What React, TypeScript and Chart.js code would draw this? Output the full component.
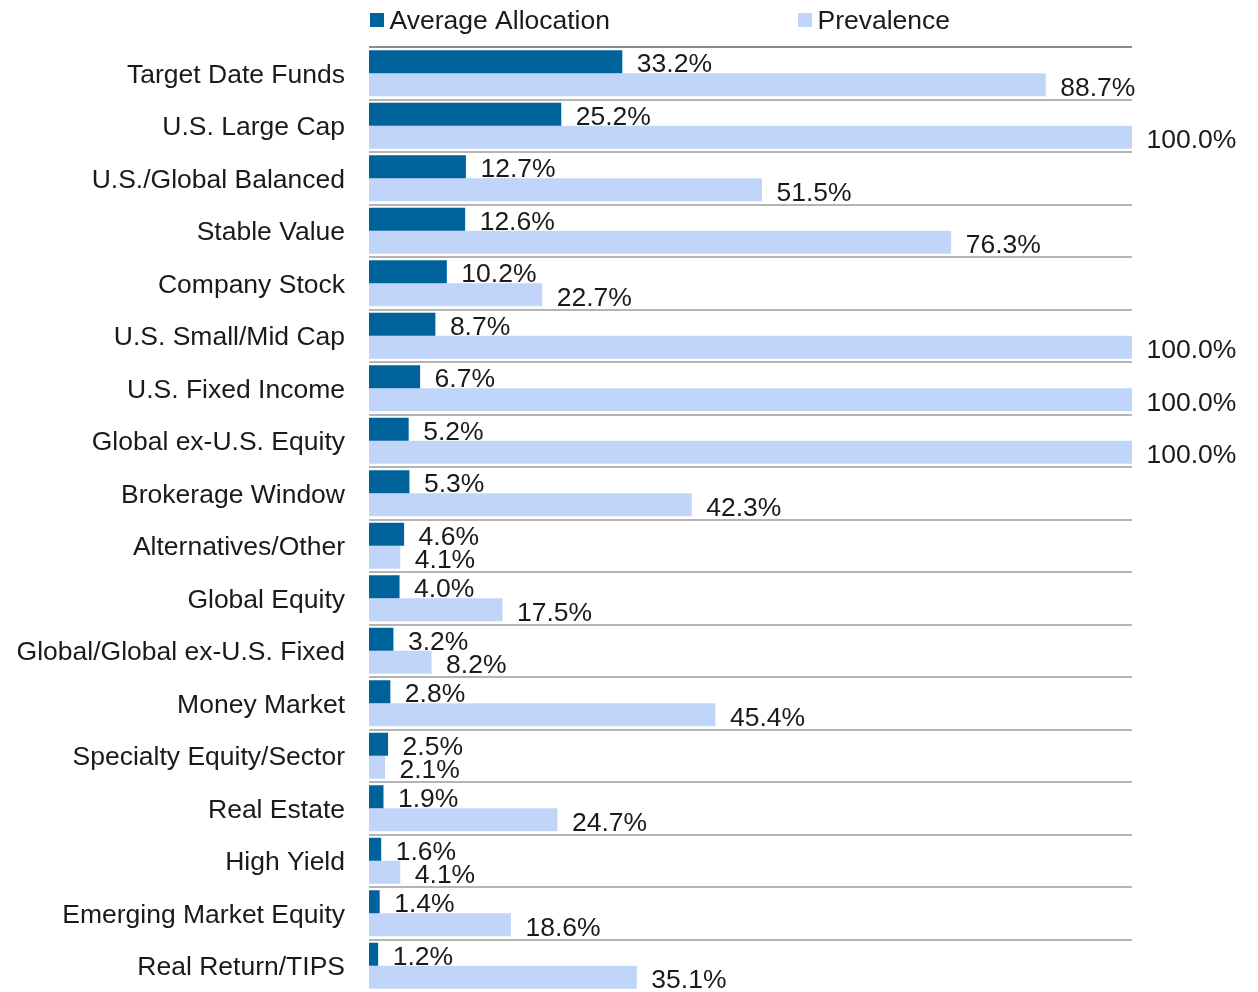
import React, { useEffect, useRef } from "react";
import { Chart, registerables } from "chart.js";

Chart.register(...registerables);

const categories = [
  "Target Date Funds",
  "U.S. Large Cap",
  "U.S./Global Balanced",
  "Stable Value",
  "Company Stock",
  "U.S. Small/Mid Cap",
  "U.S. Fixed Income",
  "Global ex-U.S. Equity",
  "Brokerage Window",
  "Alternatives/Other",
  "Global Equity",
  "Global/Global ex-U.S. Fixed",
  "Money Market",
  "Specialty Equity/Sector",
  "Real Estate",
  "High Yield",
  "Emerging Market Equity",
  "Real Return/TIPS",
];

const averageAllocation = [33.2, 25.2, 12.7, 12.6, 10.2, 8.7, 6.7, 5.2, 5.3, 4.6, 4.0, 3.2, 2.8, 2.5, 1.9, 1.6, 1.4, 1.2];
const prevalence = [88.7, 100.0, 51.5, 76.3, 22.7, 100.0, 100.0, 100.0, 42.3, 4.1, 17.5, 8.2, 45.4, 2.1, 24.7, 4.1, 18.6, 35.1];

const seriesNames = ["Average Allocation", "Prevalence"];

const DARK = "#00629b";
const LIGHT = "#c1d5fb";
const TEXT = "#1a1a1a";
const FONT_FAMILY = "'Liberation Sans', Arial, sans-serif";
const FONT_SIZE = 26.5;

const valueLabels = {
  id: "valueLabels",
  afterDatasetsDraw(chart: any) {
    const { ctx } = chart;
    ctx.save();
    ctx.font = `${FONT_SIZE}px ${FONT_FAMILY}`;
    ctx.fillStyle = TEXT;
    ctx.textAlign = "left";
    ctx.textBaseline = "middle";
    chart.data.datasets.forEach((ds: any, di: number) => {
      const meta = chart.getDatasetMeta(di);
      meta.data.forEach((el: any, i: number) => {
        const v = ds.data[i] as number;
        ctx.fillText(v.toFixed(1) + "%", el.x + 14.5, el.y + (di === 0 ? 3 : 3.5));
      });
    });
    ctx.restore();
  },
};

const customLegend = {
  id: "customLegend",
  afterDraw(chart: any) {
    const { ctx } = chart;
    const items = [
      { label: seriesNames[0], color: DARK, x: 370 },
      { label: seriesNames[1], color: LIGHT, x: 798 },
    ];
    ctx.save();
    ctx.font = `${FONT_SIZE}px ${FONT_FAMILY}`;
    ctx.textAlign = "left";
    ctx.textBaseline = "alphabetic";
    items.forEach((it) => {
      ctx.fillStyle = it.color;
      ctx.fillRect(it.x, 13, 14, 14);
      ctx.fillStyle = TEXT;
      ctx.fillText(it.label, it.x + 19.5, 28.5);
    });
    ctx.restore();
  },
};

export default function App() {
  const ref = useRef<HTMLCanvasElement | null>(null);

  useEffect(() => {
    if (!ref.current) return;
    const chart = new Chart(ref.current, {
      type: "bar",
      data: {
        labels: categories,
        datasets: [
          {
            label: seriesNames[0],
            data: averageAllocation,
            backgroundColor: DARK,
            borderWidth: 0,
            categoryPercentage: 0.876,
            barPercentage: 1,
          },
          {
            label: seriesNames[1],
            data: prevalence,
            backgroundColor: LIGHT,
            borderWidth: 0,
            categoryPercentage: 0.876,
            barPercentage: 1,
          },
        ],
      },
      options: {
        indexAxis: "y",
        responsive: false,
        animation: false,
        layout: { padding: { left: 0, right: 126, top: 47, bottom: 0 } },
        plugins: {
          legend: { display: false },
          tooltip: { enabled: false },
        },
        scales: {
          x: {
            display: false,
            min: 0,
            max: 100,
          },
          y: {
            afterFit(scale: any) {
              scale.width = 369;
              scale.paddingTop = 0;
              scale.paddingBottom = 0;
            },
            border: { display: false },
            grid: {
              offset: true,
              drawTicks: false,
              lineWidth: 2,
              color: (c: any) =>
                c.index === undefined || c.index >= categories.length
                  ? "rgba(0,0,0,0)"
                  : c.index === 0
                  ? "#8a8a8a"
                  : "#b4b4b4",
            },
            ticks: {
              padding: 24,
              labelOffset: 2,
              color: TEXT,
              font: { family: FONT_FAMILY, size: FONT_SIZE },
            },
          },
        },
      },
      plugins: [valueLabels, customLegend],
    });
    return () => chart.destroy();
  }, []);

  return (
    <div style={{ position: "fixed", left: 0, top: 0, width: 1258, height: 992, background: "#fff" }}>
      <canvas ref={ref} width={1258} height={992} style={{ display: "block" }} />
    </div>
  );
}
